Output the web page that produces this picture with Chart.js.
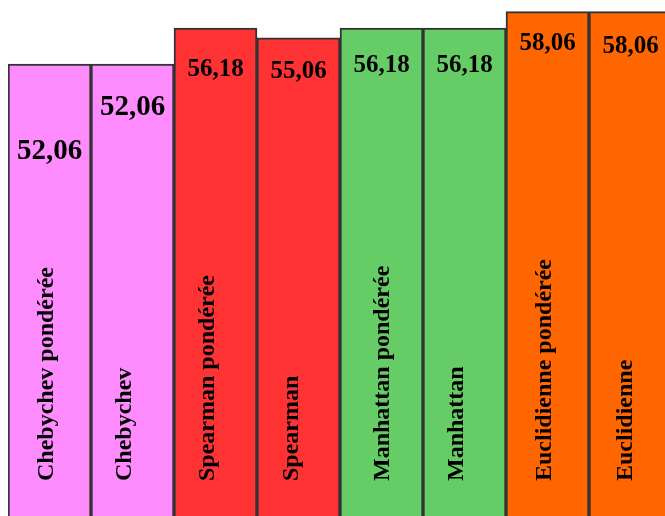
<!DOCTYPE html>
<html>
<head>
<meta charset="utf-8">
<script src="https://cdn.jsdelivr.net/npm/chart.js@4.4.1/dist/chart.umd.min.js"></script>
<style>
  html, body { margin: 0; padding: 0; background: #fff; overflow: hidden; }
  #chart { display: block; }
</style>
</head>
<body>
<canvas id="chart" width="680" height="520"></canvas>
<script>
// distance measures and their scores
const categories = [
    'Chebychev pondérée', 'Chebychev',
    'Spearman pondérée', 'Spearman',
    'Manhattan pondérée', 'Manhattan',
    'Euclidienne pondérée', 'Euclidienne'
];
const scores = [52.06, 52.06, 56.18, 55.06, 56.18, 56.18, 58.06, 58.06];
const barColors = ['#ff8cff', '#ff8cff', '#ff3333', '#ff3333', '#66cc66', '#66cc66', '#ff6600', '#ff6600'];

// where the score sits below the top of each bar, and its size
const valueOffsets = [88, 44, 41, 34, 37, 37, 32, 35];
const valueSizes = [29, 29, 25, 25, 25, 25, 25, 25];
// small sideways nudge for the rotated names
const nameShift = [-3, -8, -8, -7, 1, -8, -3, -5];

function formatScore(v) {
    return v.toFixed(2).replace('.', ',');
}

// draws the score near the top and the name rotated at the bottom of each bar
const barText = {
    id: 'barText',
    afterDatasetsDraw(chart) {
        const ctx = chart.ctx;
        const meta = chart.getDatasetMeta(0);
        ctx.save();
        ctx.fillStyle = '#000';
        meta.data.forEach(function(bar, i) {
            ctx.font = 'bold ' + valueSizes[i] + 'px "Liberation Serif", "Times New Roman", serif';
            ctx.textAlign = 'center';
            ctx.textBaseline = 'middle';
            ctx.fillText(formatScore(scores[i]), bar.x, bar.y + valueOffsets[i]);

            ctx.save();
            ctx.translate(bar.x + nameShift[i], 481);
            ctx.rotate(-Math.PI / 2);
            ctx.font = 'bold 24px "Liberation Serif", "Times New Roman", serif';
            ctx.textAlign = 'left';
            ctx.textBaseline = 'middle';
            ctx.fillText(categories[i], 0, 0);
            ctx.restore();
        });
        ctx.restore();
    }
};

const ctx = document.getElementById('chart').getContext('2d');
new Chart(ctx, {
    type: 'bar',
    data: {
        labels: categories,
        datasets: [{
            data: scores,
            backgroundColor: barColors,
            borderColor: '#333333',
            borderWidth: 2,
            categoryPercentage: 1,
            barPercentage: 1
        }]
    },
    options: {
        responsive: false,
        animation: false,
        layout: { padding: { left: 8, right: 8, top: 0, bottom: 2 } },
        plugins: {
            legend: { display: false },
            tooltip: { enabled: false }
        },
        scales: {
            x: { display: false },
            y: { display: false, min: 0, max: 59.4 }
        }
    },
    plugins: [barText]
});
</script>
</body>
</html>
